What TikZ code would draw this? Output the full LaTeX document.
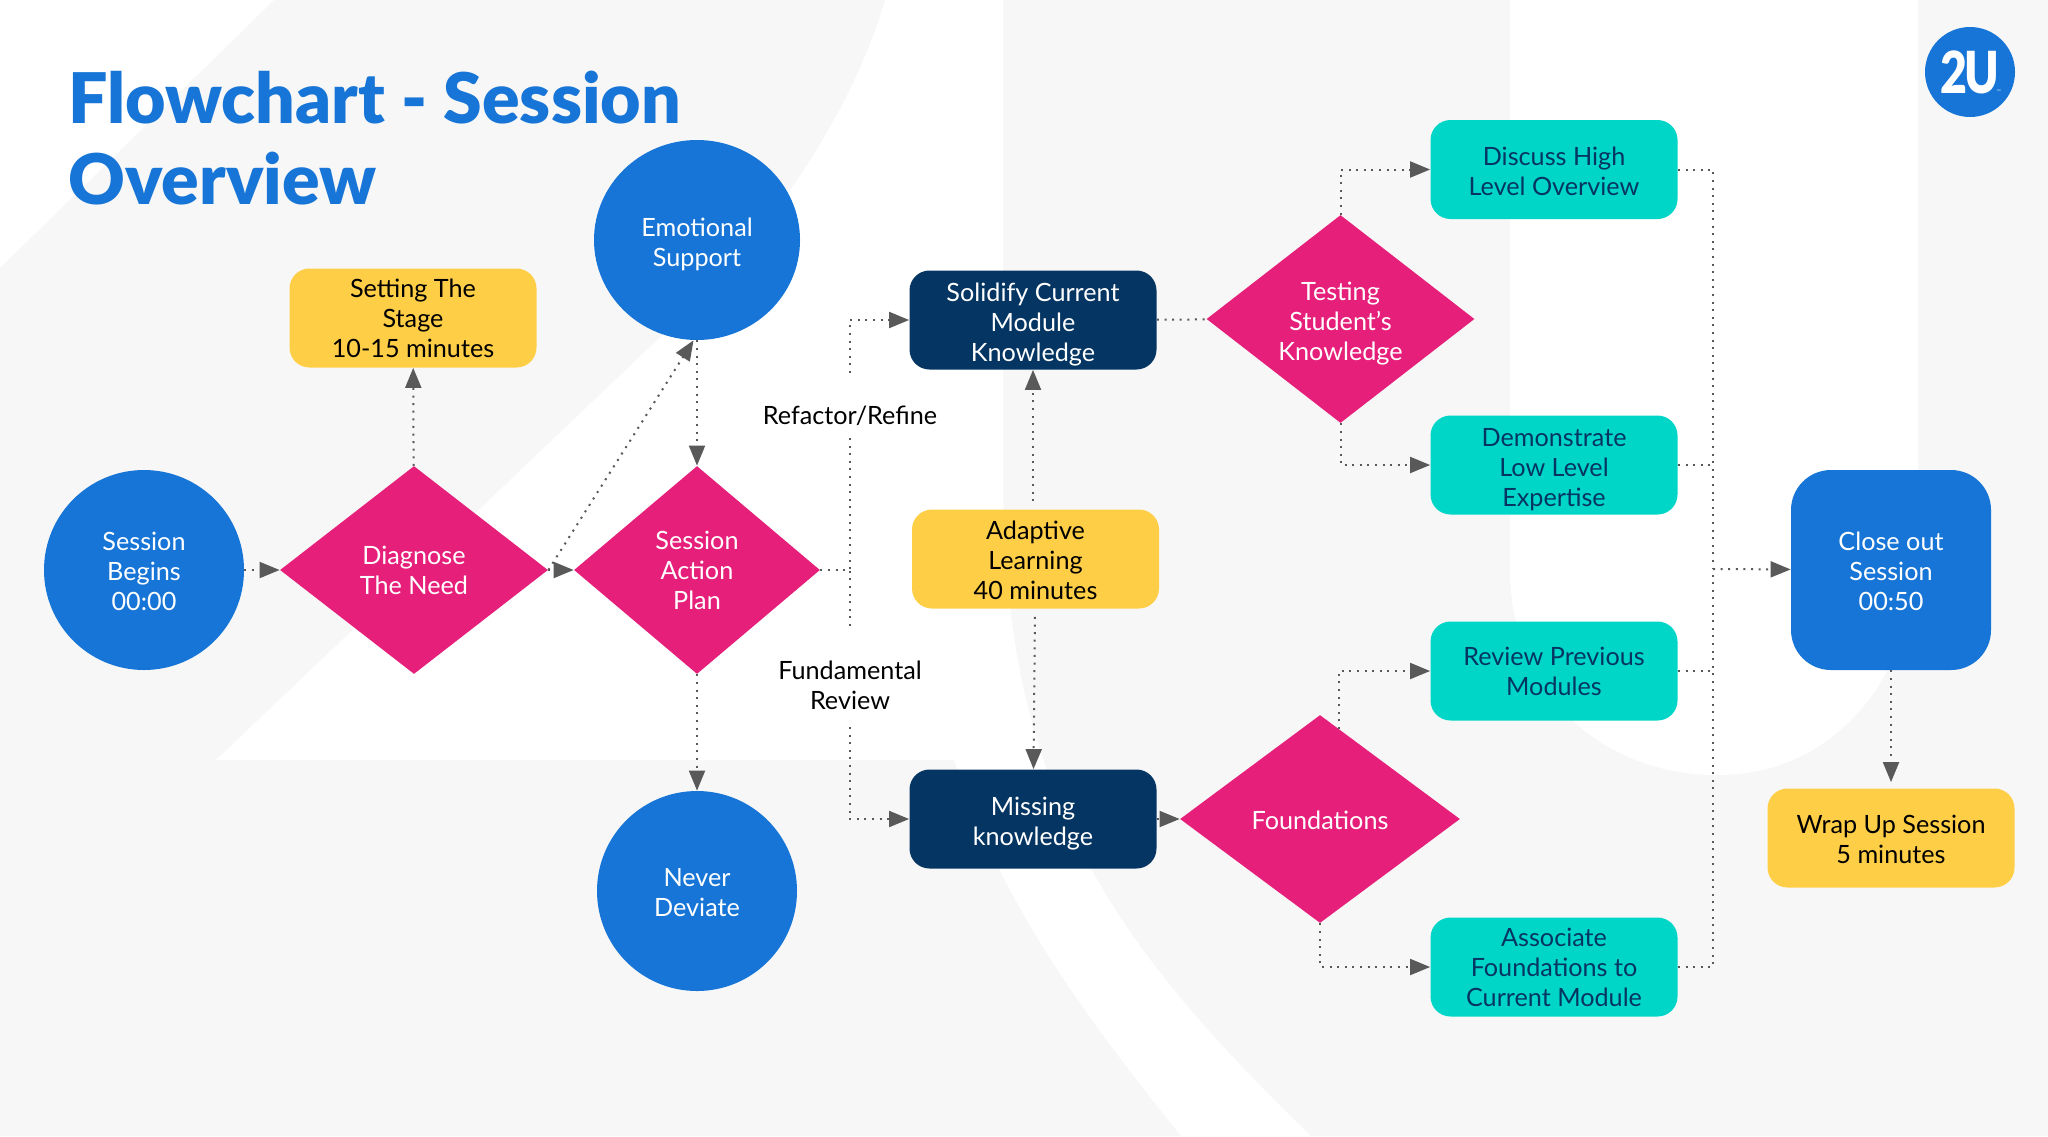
\documentclass[tikz,border=0pt]{standalone}
\usepackage{fontspec}
\setmainfont{Lato}
\newfontfamily\headfont{Lato Black}
\usetikzlibrary{shapes.geometric,arrows.meta}
\definecolor{pagegray}{HTML}{F7F7F7}
\definecolor{brandblue}{HTML}{1675D6}
\definecolor{brandpink}{HTML}{E61F7A}
\definecolor{brandnavy}{HTML}{053562}
\definecolor{brandteal}{HTML}{00D6C8}
\definecolor{brandyellow}{HTML}{FFCE47}
\definecolor{linkgray}{HTML}{595959}
\newcommand{\lowa}{\rule{0pt}{11pt}}
\newcommand{\lowb}{\rule{0pt}{13.7pt}}
\begin{document}
\begin{tikzpicture}[x=0.5pt,y=-0.5pt,
    txt/.style={align=center,inner sep=0pt,font=\fontsize{12.6}{15}\selectfont},
    round/.style={txt,shape=circle,fill=brandblue,text=white,minimum size=100pt},
    choice/.style={txt,shape=diamond,aspect=1.28,fill=brandpink,text=white,minimum width=134pt,minimum height=104pt},
    bx/.style={txt,rectangle,rounded corners=10pt,minimum width=123.5pt,minimum height=49.5pt},
    yellowbx/.style={bx,fill=brandyellow,text=black},
    navybx/.style={bx,fill=brandnavy,text=white},
    tealbx/.style={bx,fill=brandteal,text=brandnavy},
    link/.style={draw=linkgray,line width=1pt,dash pattern=on 1pt off 2.8pt},
    flow/.style={link,-{Triangle[length=10pt,width=8pt,fill=linkgray]}}
  ]
  \useasboundingbox (0,0) rectangle (2048,1136);
  % backdrop
  \fill[pagegray] (0,0) rectangle (2048,1136);
  \fill[white] (0,0) -- (274,0) -- (0,268) -- cycle;
  \fill[white] (885,0) .. controls (850,120) and (760,250) .. (653,344)
    -- (216,760) -- (954,760) .. controls (1000,900) and (1080,1010) .. (1181,1136)
    -- (1311,1136) .. controls (1120,950) and (1003,800) .. (1003,480) -- (1003,0) -- cycle;
  \fill[white] (1510,0) -- (1510,570) .. controls (1510,690) and (1600,775) .. (1717,775)
    .. controls (1840,775) and (1918,670) .. (1918,540) -- (1918,0) -- cycle;

  \node[txt,anchor=north west,align=left,text=brandblue,
    font=\fontsize{34.9}{40.5}\selectfont\headfont] (title) at (68,71) {Flowchart - Session\\Overview};
  \node[circle,fill=brandblue,text=white,inner sep=0pt,minimum size=45pt,
    font=\fontsize{29}{29}\selectfont\headfont] (logo) at (1970,72) {\scalebox{.8}[1]{2\kern-1.5ptU}};
  \node[txt,text=white,font=\fontsize{2.5}{3}\selectfont] (logotm) at (1999,92) {™};

  \node[round] (begins) at (144,570) {\lowa Session\\Begins\\00:00};
  \node[choice] (diagnose) at (414,570) {Diagnose\\The Need};
  \node[yellowbx] (stage) at (413,318) {Setting The\\Stage\\10-15 minutes};
  \node[round,shape=ellipse,minimum width=103pt,minimum height=100pt] (emotional) at (697,240) {\lowb Emotional\\Support};
  \node[choice,minimum width=123pt] (action) at (697,570) {Session\\Action\\Plan};
  \node[round] (never) at (697,891) {\lowa Never\\Deviate};

  \node[txt] (refactor) at (850,416) {Refactor/Refine};
  \node[txt] (fundamental) at (850,685) {Fundamental\\Review};
  \coordinate (refactorup) at (850,373);
  \coordinate (refactordown) at (850,438);
  \coordinate (fundamentalup) at (850,630);
  \coordinate (fundamentaldown) at (850,727);

  \node[navybx] (solidify) at (1033,320) {\lowb Solidify Current\\Module\\Knowledge};
  \node[yellowbx] (adaptive) at (1035.5,559) {\lowa Adaptive\\Learning\\40 minutes};
  \node[navybx] (missing) at (1033,819) {\lowb Missing\\knowledge};
  \node[choice] (testing) at (1340.5,319) {\lowb Testing\\Student’s\\Knowledge};
  \node[choice,minimum width=140pt] (foundations) at (1320,819) {\lowa Foundations};

  \node[tealbx] (discuss) at (1554,169.5) {\lowa Discuss High\\Level Overview};
  \node[tealbx] (demonstrate) at (1554,465) {\lowb Demonstrate\\Low Level\\Expertise};
  \node[tealbx] (review) at (1554,671) {Review Previous\\Modules};
  \node[tealbx] (associate) at (1554,967) {Associate\\Foundations to\\Current Module};

  \node[round,shape=rectangle,rounded corners=20pt] (closeout) at (1891,570) {\lowa Close out\\Session\\00:50};
  \node[yellowbx] (wrapup) at (1891,838) {\lowa Wrap Up Session\\5 minutes};

  \coordinate (merge) at (1713,569);
  \coordinate (reviewfrom) at (1339,729);

  \draw[flow] (begins) -- (diagnose);
  \draw[flow] (diagnose) -- (stage);
  \draw[flow] (diagnose.east) -- (emotional.268);
  \draw[flow] (diagnose.east) -- (action.west);
  \draw[flow] (emotional) -- (action);
  \draw[flow] (action) -- (never);

  \draw[link] (action.east) -| (refactordown);
  \draw[link] (action.east) -| (fundamentalup);
  \draw[flow] (refactorup) |- (solidify.west);
  \draw[flow] (fundamentaldown) |- (missing.west);

  \draw[flow,shorten <=4pt] (adaptive.north -| solidify) -- (solidify);
  \draw[flow,shorten <=4pt] (adaptive) -- (missing);
  \draw[link] (solidify) -- (testing);
  \draw[flow] (missing) -- (foundations);

  \draw[flow] (testing.north) |- (discuss.west);
  \draw[flow] (testing.south) |- (demonstrate.west);
  \draw[flow] (reviewfrom) |- (review.west);
  \draw[flow] (foundations.south) |- (associate.west);

  \draw[link] (discuss.east) -| (merge);
  \draw[link] (associate.east) -| (merge);
  \draw[link] (demonstrate.east) -- (demonstrate.east -| merge);
  \draw[link] (review.east) -- (review.east -| merge);
  \draw[flow] (merge) -- (closeout);
  \draw[flow,shorten >=3pt] (closeout) -- (wrapup);
\end{tikzpicture}
\end{document}
